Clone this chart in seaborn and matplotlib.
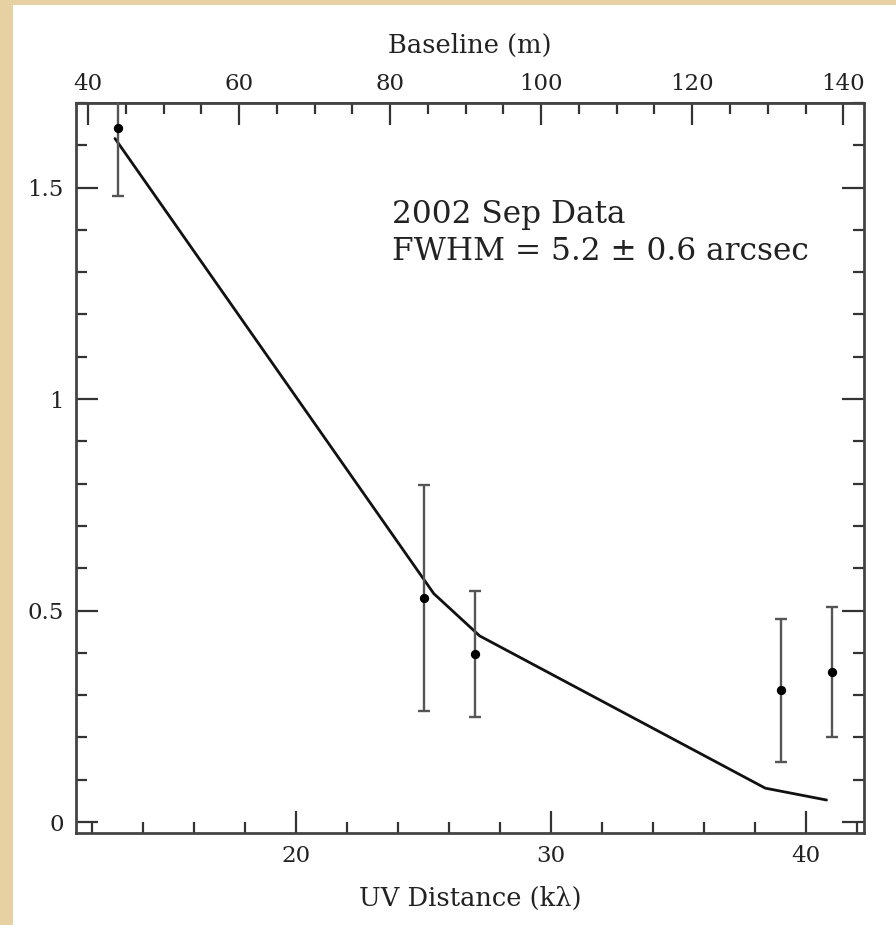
import numpy as np
import pandas as pd
import matplotlib
matplotlib.use("Agg")
import matplotlib.pyplot as plt
from matplotlib.patches import Rectangle
from matplotlib.ticker import MultipleLocator, FixedLocator
import seaborn as sns

# Measured visibility amplitudes versus uv distance
uv_dist = [13.0, 25.0, 27.0, 39.0, 41.0]          # kλ
amplitude = [1.642, 0.529, 0.397, 0.312, 0.354]
amp_err = [0.161, 0.267, 0.149, 0.169, 0.154]

# Gaussian source model sampled along the uv track
model_uv = [12.9, 25.4, 27.2, 38.4, 40.8]
model_amp = [1.616, 0.540, 0.440, 0.080, 0.052]

# Top axis tick values (baseline in metres)
baseline_ticks = [40, 60, 80, 100, 120, 140]
baseline_minor = [45, 50, 55, 65, 70, 75, 85, 90, 95, 105, 110, 115, 125, 130, 135]

# Conversion kλ -> metres for the top axis (λ ≈ 3.38 mm)
WAVELENGTH_MM = 3.377

note_lines = ["2002 Sep Data", "FWHM = 5.2 \u00b1 0.6 arcsec"]

sns.set_theme(style="white")
plt.rcParams["font.family"] = ["DejaVu Serif", "DejaVu Sans"]

fig = plt.figure(figsize=(8.96, 9.25), dpi=100)
fig.patch.set_facecolor("white")
# parchment border along the left and top edges
tan = "#e7d1a3"
fig.patches.append(Rectangle((0, 0), 13 / 896, 1, transform=fig.transFigure,
                             facecolor=tan, edgecolor="none", zorder=-10))
fig.patches.append(Rectangle((0, 1 - 5 / 925), 1, 5 / 925, transform=fig.transFigure,
                             facecolor=tan, edgecolor="none", zorder=-10))

ax = fig.add_axes([76 / 896, 92 / 925, 788 / 896, 730 / 925])
ax.set_facecolor("white")

obs = pd.DataFrame({"uv": uv_dist, "amp": amplitude, "err": amp_err})
model = pd.DataFrame({"uv": model_uv, "amp": model_amp})

sns.lineplot(data=model, x="uv", y="amp", ax=ax, color="#111111", lw=2.0,
             sort=False, estimator=None)
ax.errorbar(obs["uv"], obs["amp"], yerr=obs["err"], fmt="none",
            ecolor="#555555", elinewidth=1.7, capsize=4, capthick=1.7, zorder=3)
sns.scatterplot(data=obs, x="uv", y="amp", ax=ax, color="black", s=45,
                edgecolor="black", linewidth=0, zorder=4)

ax.set_xlim(11.37, 42.27)
ax.set_ylim(-0.026, 1.70)

ax.set_xticks([20, 30, 40])
ax.xaxis.set_minor_locator(FixedLocator([12, 14, 16, 18, 22, 24, 26, 28,
                                         32, 34, 36, 38, 42]))
ax.set_yticks([0, 0.5, 1, 1.5])
ax.set_yticklabels(["0", "0.5", "1", "1.5"])
ax.yaxis.set_minor_locator(MultipleLocator(0.1))

ax.tick_params(which="both", direction="in", top=False, right=True,
               bottom=True, left=True, colors="#333333", labelcolor="#222222",
               labelsize=16.5, width=1.6)
ax.tick_params(which="major", length=16, pad=9)
ax.tick_params(which="minor", length=8)

for sp in ax.spines.values():
    sp.set_color("#444444")
    sp.set_linewidth(2)

ax.set_xlabel("UV Distance (k\u03bb)", fontsize=18.5, labelpad=13,
              color="#222222")
ax.set_ylabel("")

top = ax.secondary_xaxis("top", functions=(lambda u: u * WAVELENGTH_MM,
                                           lambda b: b / WAVELENGTH_MM))
top.xaxis.set_major_locator(FixedLocator(baseline_ticks))
top.xaxis.set_minor_locator(FixedLocator(baseline_minor))
top.tick_params(which="both", direction="in", colors="#333333",
                labelcolor="#222222", labelsize=16.5, width=1.6)
top.tick_params(which="major", length=16, pad=6)
top.tick_params(which="minor", length=8)
top.set_xlabel("Baseline (m)", fontsize=18.5, labelpad=14, color="#222222")

ax.text(0.401, 0.836, note_lines[0], transform=ax.transAxes, fontsize=22.5,
        color="#222222", va="baseline")
ax.text(0.401, 0.785, note_lines[1], transform=ax.transAxes, fontsize=22.5,
        color="#222222", va="baseline")

fig.savefig("out.png", dpi=100)
